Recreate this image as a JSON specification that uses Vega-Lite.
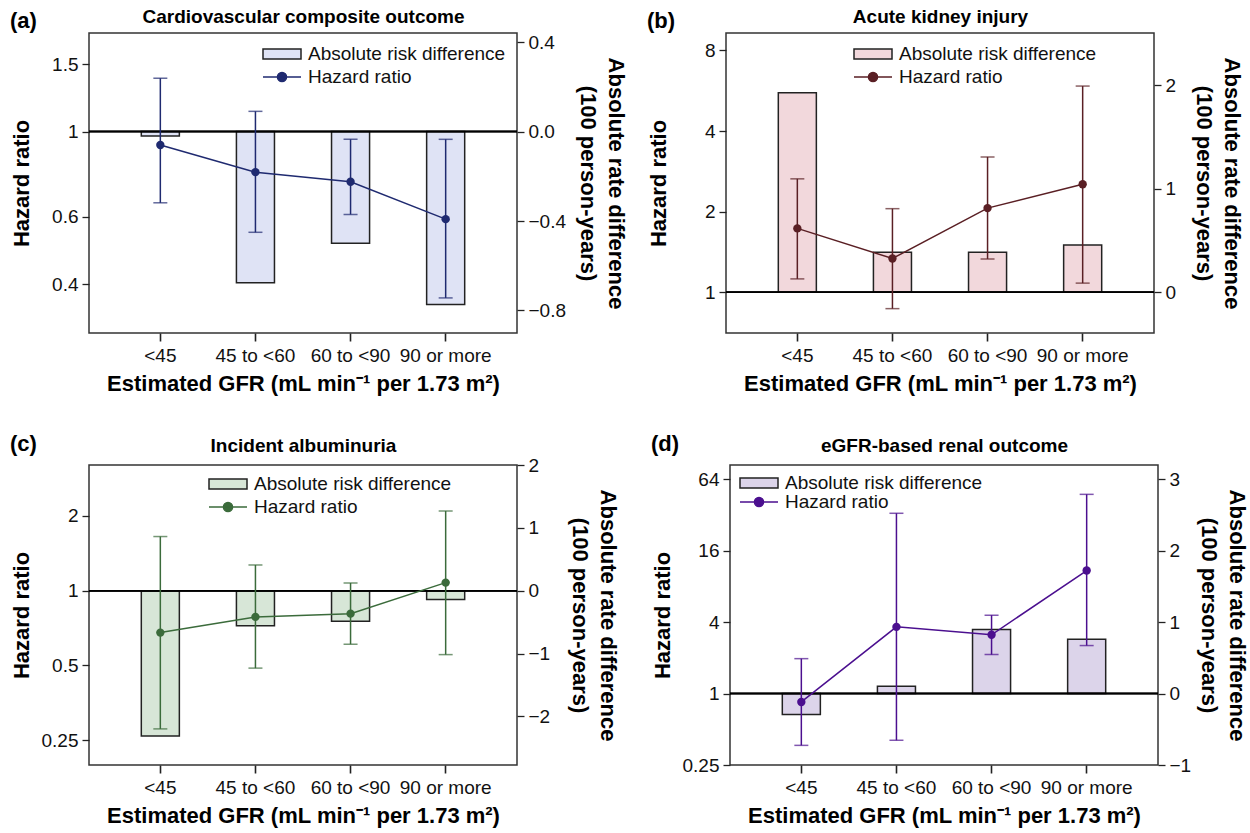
{
"$schema": "https://vega.github.io/schema/vega-lite/v6.json",
"padding": {"left": 9, "top": 6, "right": 5, "bottom": 5},
"background": "white",
"datasets": {
 "a": [
  {"cat": "<45", "ard": -0.02, "hr": 0.923, "lo": 0.652, "hi": 1.379},
  {"cat": "45 to <60", "ard": -0.676, "hr": 0.784, "lo": 0.546, "hi": 1.13},
  {"cat": "60 to <90", "ard": -0.5, "hr": 0.74, "lo": 0.608, "hi": 0.955},
  {"cat": "90 or more", "ard": -0.773, "hr": 0.591, "lo": 0.368, "hi": 0.955}
 ],
 "b": [
  {"cat": "<45", "ard": 1.93, "hr": 1.73, "lo": 1.12, "hi": 2.65},
  {"cat": "45 to <60", "ard": 0.386, "hr": 1.335, "lo": 0.867, "hi": 2.05},
  {"cat": "60 to <90", "ard": 0.386, "hr": 2.06, "lo": 1.33, "hi": 3.2},
  {"cat": "90 or more", "ard": 0.457, "hr": 2.53, "lo": 1.08, "hi": 5.89}
 ],
 "c": [
  {"cat": "<45", "ard": -2.31, "hr": 0.678, "lo": 0.278, "hi": 1.65},
  {"cat": "45 to <60", "ard": -0.556, "hr": 0.784, "lo": 0.488, "hi": 1.268},
  {"cat": "60 to <90", "ard": -0.487, "hr": 0.808, "lo": 0.609, "hi": 1.073},
  {"cat": "90 or more", "ard": -0.138, "hr": 1.077, "lo": 0.553, "hi": 2.09}
 ],
 "d": [
  {"cat": "<45", "ard": -0.294, "hr": 0.85, "lo": 0.366, "hi": 1.97},
  {"cat": "45 to <60", "ard": 0.103, "hr": 3.65, "lo": 0.404, "hi": 33.1},
  {"cat": "60 to <90", "ard": 0.897, "hr": 3.13, "lo": 2.13, "hi": 4.58},
  {"cat": "90 or more", "ard": 0.762, "hr": 10.9, "lo": 2.54, "hi": 47.8}
 ]
},
"spacing": 37,
"resolve": {"scale": {"x": "independent", "y": "independent", "fill": "independent", "stroke": "independent"}},
"vconcat": [
 {"hconcat": [
  {
   "width": 428, "height": 300,
   "data": {"name": "a"},
   "title": {"text": "(a)", "anchor": "start", "frame": "bounds", "offset": -26},
   "resolve": {"scale": {"y": "independent"}, "axis": {"x": "independent"}},
   "layer": [
    {"layer": [
     {"mark": {"type": "bar", "stroke": "#222", "strokeWidth": 1.5},
      "encoding": {
       "x": {"field": "cat", "type": "nominal", "sort": null, "scale": {"paddingInner": 0.6, "paddingOuter": 0.55},
             "axis": {"orient": "bottom", "title": "Estimated GFR (mL min⁻¹ per 1.73 m²)", "labelAngle": 0, "labelPadding": 5, "titlePadding": 8, "ticks": true}},
       "y": {"field": "ard", "type": "quantitative", "scale": {"domain": [-0.901, 0.441], "nice": false, "zero": false},
             "axis": {"orient": "right", "values": [-0.8, -0.4, 0, 0.4], "format": ".1f", "title": ["Absolute rate difference", "(100 person-years)"], "titlePadding": 10, "titleLineHeight": 28}},
       "y2": {"datum": 0},
       "fill": {"datum": "Absolute risk difference", "scale": {"range": ["#dfe3f5"]},
                "legend": {"orient": "none", "legendX": 173, "legendY": 1, "title": null, "symbolType": "M-1,-0.26H1V0.26H-1Z", "symbolSize": 1444, "symbolStrokeColor": "#222", "symbolStrokeWidth": 1.5, "labelFontSize": 19, "labelOffset": 6}}
      }},
     {"mark": {"type": "rule", "color": "#000", "strokeWidth": 1.5},
      "encoding": {"y": {"datum": 0, "type": "quantitative", "scale": {"domain": [-0.901, 0.441], "nice": false, "zero": false},
             "axis": {"orient": "right", "values": [-0.8, -0.4, 0, 0.4], "format": ".1f", "title": ["Absolute rate difference", "(100 person-years)"], "titlePadding": 10, "titleLineHeight": 28}}}}
    ]},
    {"encoding": {"x": {"field": "cat", "type": "nominal", "sort": null, "axis": {"orient": "top", "title": "Cardiovascular composite outcome", "labels": false, "titlePadding": 7}}},
     "layer": [
      {"mark": {"type": "rule", "color": "#1f2a70", "strokeWidth": 1.5},
       "encoding": {"y": {"field": "lo", "type": "quantitative", "scale": {"type": "log", "domain": [0.298, 1.81], "nice": false},
                          "axis": {"orient": "left", "values": [0.4, 0.6, 1, 1.5], "format": "~g", "title": "Hazard ratio"}},
                    "y2": {"field": "hi"}}},
      {"transform": [{"fold": ["lo", "hi"], "as": ["bound", "val"]}],
       "mark": {"type": "tick", "color": "#1f2a70", "size": 14, "thickness": 1.5},
       "encoding": {"y": {"field": "val", "type": "quantitative", "scale": {"type": "log", "domain": [0.298, 1.81], "nice": false},
                          "axis": {"orient": "left", "values": [0.4, 0.6, 1, 1.5], "format": "~g", "title": "Hazard ratio"}}}},
      {"mark": {"type": "line", "strokeWidth": 1.5},
       "encoding": {"y": {"field": "hr", "type": "quantitative", "scale": {"type": "log", "domain": [0.298, 1.81], "nice": false},
                          "axis": {"orient": "left", "values": [0.4, 0.6, 1, 1.5], "format": "~g", "title": "Hazard ratio"}},
                    "stroke": {"datum": "Hazard ratio", "scale": {"range": ["#1f2a70"]},
                               "legend": {"orient": "none", "legendX": 173, "legendY": 24, "title": null, "symbolType": "M-1,0H1M-0.24,0A0.24,0.24,0,1,0,0.24,0A0.24,0.24,0,1,0,-0.24,0", "symbolSize": 1444, "symbolFillColor": "#1f2a70", "symbolStrokeWidth": 1.5, "labelFontSize": 19, "labelOffset": 6}}}},
      {"mark": {"type": "point", "filled": true, "color": "#1f2a70", "size": 70, "opacity": 1},
       "encoding": {"y": {"field": "hr", "type": "quantitative", "scale": {"type": "log", "domain": [0.298, 1.81], "nice": false},
                          "axis": {"orient": "left", "values": [0.4, 0.6, 1, 1.5], "format": "~g", "title": "Hazard ratio"}}}}
     ]}
   ]
  },
  {
   "width": 428, "height": 300,
   "data": {"name": "b"},
   "title": {"text": "(b)", "anchor": "start", "frame": "bounds", "offset": -26},
   "resolve": {"scale": {"y": "independent"}, "axis": {"x": "independent"}},
   "layer": [
    {"layer": [
     {"mark": {"type": "bar", "stroke": "#222", "strokeWidth": 1.5},
      "encoding": {
       "x": {"field": "cat", "type": "nominal", "sort": null, "scale": {"paddingInner": 0.6, "paddingOuter": 0.55},
             "axis": {"orient": "bottom", "title": "Estimated GFR (mL min⁻¹ per 1.73 m²)", "labelAngle": 0, "labelPadding": 5, "titlePadding": 8, "ticks": true}},
       "y": {"field": "ard", "type": "quantitative", "scale": {"domain": [-0.395, 2.507], "nice": false, "zero": false},
             "axis": {"orient": "right", "values": [0, 1, 2], "format": "d", "title": ["Absolute rate difference", "(100 person-years)"], "titlePadding": 16, "titleLineHeight": 28}},
       "y2": {"datum": 0},
       "fill": {"datum": "Absolute risk difference", "scale": {"range": ["#f2d8dc"]},
                "legend": {"orient": "none", "legendX": 127, "legendY": 1, "title": null, "symbolType": "M-1,-0.26H1V0.26H-1Z", "symbolSize": 1444, "symbolStrokeColor": "#222", "symbolStrokeWidth": 1.5, "labelFontSize": 19, "labelOffset": 6}}
      }},
     {"mark": {"type": "rule", "color": "#000", "strokeWidth": 1.5},
      "encoding": {"y": {"datum": 0, "type": "quantitative", "scale": {"domain": [-0.395, 2.507], "nice": false, "zero": false},
             "axis": {"orient": "right", "values": [0, 1, 2], "format": "d", "title": ["Absolute rate difference", "(100 person-years)"], "titlePadding": 16, "titleLineHeight": 28}}}}
    ]},
    {"encoding": {"x": {"field": "cat", "type": "nominal", "sort": null, "axis": {"orient": "top", "title": "Acute kidney injury", "labels": false, "titlePadding": 7}}},
     "layer": [
      {"mark": {"type": "rule", "color": "#5a1f24", "strokeWidth": 1.5},
       "encoding": {"y": {"field": "lo", "type": "quantitative", "scale": {"type": "log", "base": 2, "domain": [0.703, 9.3], "nice": false},
                          "axis": {"orient": "left", "values": [1, 2, 4, 8], "format": "~g", "title": "Hazard ratio"}},
                    "y2": {"field": "hi"}}},
      {"transform": [{"fold": ["lo", "hi"], "as": ["bound", "val"]}],
       "mark": {"type": "tick", "color": "#5a1f24", "size": 14, "thickness": 1.5},
       "encoding": {"y": {"field": "val", "type": "quantitative", "scale": {"type": "log", "base": 2, "domain": [0.703, 9.3], "nice": false},
                          "axis": {"orient": "left", "values": [1, 2, 4, 8], "format": "~g", "title": "Hazard ratio"}}}},
      {"mark": {"type": "line", "strokeWidth": 1.5},
       "encoding": {"y": {"field": "hr", "type": "quantitative", "scale": {"type": "log", "base": 2, "domain": [0.703, 9.3], "nice": false},
                          "axis": {"orient": "left", "values": [1, 2, 4, 8], "format": "~g", "title": "Hazard ratio"}},
                    "stroke": {"datum": "Hazard ratio", "scale": {"range": ["#5a1f24"]},
                               "legend": {"orient": "none", "legendX": 127, "legendY": 24, "title": null, "symbolType": "M-1,0H1M-0.24,0A0.24,0.24,0,1,0,0.24,0A0.24,0.24,0,1,0,-0.24,0", "symbolSize": 1444, "symbolFillColor": "#5a1f24", "symbolStrokeWidth": 1.5, "labelFontSize": 19, "labelOffset": 6}}}},
      {"mark": {"type": "point", "filled": true, "color": "#5a1f24", "size": 70, "opacity": 1},
       "encoding": {"y": {"field": "hr", "type": "quantitative", "scale": {"type": "log", "base": 2, "domain": [0.703, 9.3], "nice": false},
                          "axis": {"orient": "left", "values": [1, 2, 4, 8], "format": "~g", "title": "Hazard ratio"}}}}
     ]}
   ]
  }
 ], "spacing": 18, "resolve": {"scale": {"x": "independent", "y": "independent", "fill": "independent", "stroke": "independent"}}},
 {"hconcat": [
  {
   "width": 428, "height": 300,
   "data": {"name": "c"},
   "title": {"text": "(c)", "anchor": "start", "frame": "bounds", "offset": -20},
   "resolve": {"scale": {"y": "independent"}, "axis": {"x": "independent"}},
   "layer": [
    {"layer": [
     {"mark": {"type": "bar", "stroke": "#222", "strokeWidth": 1.5},
      "encoding": {
       "x": {"field": "cat", "type": "nominal", "sort": null, "scale": {"paddingInner": 0.6, "paddingOuter": 0.55},
             "axis": {"orient": "bottom", "title": "Estimated GFR (mL min⁻¹ per 1.73 m²)", "labelAngle": 0, "labelPadding": 5, "titlePadding": 8, "ticks": true}},
       "y": {"field": "ard", "type": "quantitative", "scale": {"domain": [-2.773, 2.0], "nice": false, "zero": false},
             "axis": {"orient": "right", "values": [-2, -1, 0, 1, 2], "format": "d", "title": ["Absolute rate difference", "(100 person-years)"], "titlePadding": 18, "titleLineHeight": 28}},
       "y2": {"datum": 0},
       "fill": {"datum": "Absolute risk difference", "scale": {"range": ["#d7e6d7"]},
                "legend": {"orient": "none", "legendX": 119, "legendY": -1, "title": null, "symbolType": "M-1,-0.26H1V0.26H-1Z", "symbolSize": 1444, "symbolStrokeColor": "#222", "symbolStrokeWidth": 1.5, "labelFontSize": 19, "labelOffset": 6}}
      }},
     {"mark": {"type": "rule", "color": "#000", "strokeWidth": 1.5},
      "encoding": {"y": {"datum": 0, "type": "quantitative", "scale": {"domain": [-2.773, 2.0], "nice": false, "zero": false},
             "axis": {"orient": "right", "values": [-2, -1, 0, 1, 2], "format": "d", "title": ["Absolute rate difference", "(100 person-years)"], "titlePadding": 18, "titleLineHeight": 28}}}}
    ]},
    {"encoding": {"x": {"field": "cat", "type": "nominal", "sort": null, "axis": {"orient": "top", "title": "Incident albuminuria", "labels": false, "titlePadding": 10}}},
     "layer": [
      {"mark": {"type": "rule", "color": "#3b6b3b", "strokeWidth": 1.5},
       "encoding": {"y": {"field": "lo", "type": "quantitative", "scale": {"type": "log", "base": 2, "domain": [0.199, 3.2], "nice": false},
                          "axis": {"orient": "left", "values": [0.25, 0.5, 1, 2], "format": "~g", "title": "Hazard ratio"}},
                    "y2": {"field": "hi"}}},
      {"transform": [{"fold": ["lo", "hi"], "as": ["bound", "val"]}],
       "mark": {"type": "tick", "color": "#3b6b3b", "size": 14, "thickness": 1.5},
       "encoding": {"y": {"field": "val", "type": "quantitative", "scale": {"type": "log", "base": 2, "domain": [0.199, 3.2], "nice": false},
                          "axis": {"orient": "left", "values": [0.25, 0.5, 1, 2], "format": "~g", "title": "Hazard ratio"}}}},
      {"mark": {"type": "line", "strokeWidth": 1.5},
       "encoding": {"y": {"field": "hr", "type": "quantitative", "scale": {"type": "log", "base": 2, "domain": [0.199, 3.2], "nice": false},
                          "axis": {"orient": "left", "values": [0.25, 0.5, 1, 2], "format": "~g", "title": "Hazard ratio"}},
                    "stroke": {"datum": "Hazard ratio", "scale": {"range": ["#3b6b3b"]},
                               "legend": {"orient": "none", "legendX": 119, "legendY": 22, "title": null, "symbolType": "M-1,0H1M-0.24,0A0.24,0.24,0,1,0,0.24,0A0.24,0.24,0,1,0,-0.24,0", "symbolSize": 1444, "symbolFillColor": "#3b6b3b", "symbolStrokeWidth": 1.5, "labelFontSize": 19, "labelOffset": 6}}}},
      {"mark": {"type": "point", "filled": true, "color": "#3b6b3b", "size": 70, "opacity": 1},
       "encoding": {"y": {"field": "hr", "type": "quantitative", "scale": {"type": "log", "base": 2, "domain": [0.199, 3.2], "nice": false},
                          "axis": {"orient": "left", "values": [0.25, 0.5, 1, 2], "format": "~g", "title": "Hazard ratio"}}}}
     ]}
   ]
  },
  {
   "width": 428, "height": 300,
   "data": {"name": "d"},
   "title": {"text": "(d)", "anchor": "start", "frame": "bounds", "offset": -20},
   "resolve": {"scale": {"y": "independent"}, "axis": {"x": "independent"}},
   "layer": [
    {"layer": [
     {"mark": {"type": "bar", "stroke": "#222", "strokeWidth": 1.5},
      "encoding": {
       "x": {"field": "cat", "type": "nominal", "sort": null, "scale": {"paddingInner": 0.6, "paddingOuter": 0.55},
             "axis": {"orient": "bottom", "title": "Estimated GFR (mL min⁻¹ per 1.73 m²)", "labelAngle": 0, "labelPadding": 5, "titlePadding": 8, "ticks": true}},
       "y": {"field": "ard", "type": "quantitative", "scale": {"domain": [-1, 3.2], "nice": false, "zero": false},
             "axis": {"orient": "right", "values": [-1, 0, 1, 2, 3], "format": "d", "title": ["Absolute rate difference", "(100 person-years)"], "titlePadding": 6, "titleLineHeight": 28}},
       "y2": {"datum": 0},
       "fill": {"datum": "Absolute risk difference", "scale": {"range": ["#dcd4ea"]},
                "legend": {"orient": "none", "legendX": 9, "legendY": -2, "title": null, "symbolType": "M-1,-0.26H1V0.26H-1Z", "symbolSize": 1444, "symbolStrokeColor": "#222", "symbolStrokeWidth": 1.5, "labelFontSize": 19, "labelOffset": 6}}
      }},
     {"mark": {"type": "rule", "color": "#000", "strokeWidth": 1.5},
      "encoding": {"y": {"datum": 0, "type": "quantitative", "scale": {"domain": [-1, 3.2], "nice": false, "zero": false},
             "axis": {"orient": "right", "values": [-1, 0, 1, 2, 3], "format": "d", "title": ["Absolute rate difference", "(100 person-years)"], "titlePadding": 6, "titleLineHeight": 28}}}}
    ]},
    {"encoding": {"x": {"field": "cat", "type": "nominal", "sort": null, "axis": {"orient": "top", "title": "eGFR-based renal outcome", "labels": false, "titlePadding": 10}}},
     "layer": [
      {"mark": {"type": "rule", "color": "#4b0f8f", "strokeWidth": 1.5},
       "encoding": {"y": {"field": "lo", "type": "quantitative", "scale": {"type": "log", "base": 2, "domain": [0.25, 84.5], "nice": false},
                          "axis": {"orient": "left", "values": [0.25, 1, 4, 16, 64], "format": "~g", "title": "Hazard ratio"}},
                    "y2": {"field": "hi"}}},
      {"transform": [{"fold": ["lo", "hi"], "as": ["bound", "val"]}],
       "mark": {"type": "tick", "color": "#4b0f8f", "size": 14, "thickness": 1.5},
       "encoding": {"y": {"field": "val", "type": "quantitative", "scale": {"type": "log", "base": 2, "domain": [0.25, 84.5], "nice": false},
                          "axis": {"orient": "left", "values": [0.25, 1, 4, 16, 64], "format": "~g", "title": "Hazard ratio"}}}},
      {"mark": {"type": "line", "strokeWidth": 1.5},
       "encoding": {"y": {"field": "hr", "type": "quantitative", "scale": {"type": "log", "base": 2, "domain": [0.25, 84.5], "nice": false},
                          "axis": {"orient": "left", "values": [0.25, 1, 4, 16, 64], "format": "~g", "title": "Hazard ratio"}},
                    "stroke": {"datum": "Hazard ratio", "scale": {"range": ["#4b0f8f"]},
                               "legend": {"orient": "none", "legendX": 9, "legendY": 17, "title": null, "symbolType": "M-1,0H1M-0.24,0A0.24,0.24,0,1,0,0.24,0A0.24,0.24,0,1,0,-0.24,0", "symbolSize": 1444, "symbolFillColor": "#4b0f8f", "symbolStrokeWidth": 1.5, "labelFontSize": 19, "labelOffset": 6}}}},
      {"mark": {"type": "point", "filled": true, "color": "#4b0f8f", "size": 70, "opacity": 1},
       "encoding": {"y": {"field": "hr", "type": "quantitative", "scale": {"type": "log", "base": 2, "domain": [0.25, 84.5], "nice": false},
                          "axis": {"orient": "left", "values": [0.25, 1, 4, 16, 64], "format": "~g", "title": "Hazard ratio"}}}}
     ]}
   ]
  }
 ], "spacing": 30, "resolve": {"scale": {"x": "independent", "y": "independent", "fill": "independent", "stroke": "independent"}}}
],
"config": {
 "font": "Liberation Sans",
 "view": {"stroke": "#333", "strokeWidth": 1.5},
 "axis": {"labelFont": "Liberation Sans", "labelFontSize": 19, "labelColor": "#111", "titleFont": "Liberation Sans", "titleFontSize": 22, "titleFontWeight": "bold", "titleColor": "#000", "tickColor": "#222", "tickSize": 7, "tickWidth": 1.3, "domain": false, "grid": false, "labelPadding": 4, "labelOverlap": false, "labelFlush": false},
 "axisLeft": {"minExtent": 46, "maxExtent": 46, "titlePadding": 10},
 "axisBottom": {"ticks": true, "tickSize": 8, "tickWidth": 1.6, "tickColor": "#222", "tickOpacity": 1},
 "axisTop": {"ticks": false, "labels": false, "domain": false, "titleFontSize": 19},
 "title": {"font": "Liberation Sans", "fontSize": 22, "fontWeight": "bold", "color": "#000"},
 "legend": {"labelFont": "Liberation Sans", "labelFontSize": 19, "labelColor": "#111", "padding": 0, "labelLimit": 0}
}
}
